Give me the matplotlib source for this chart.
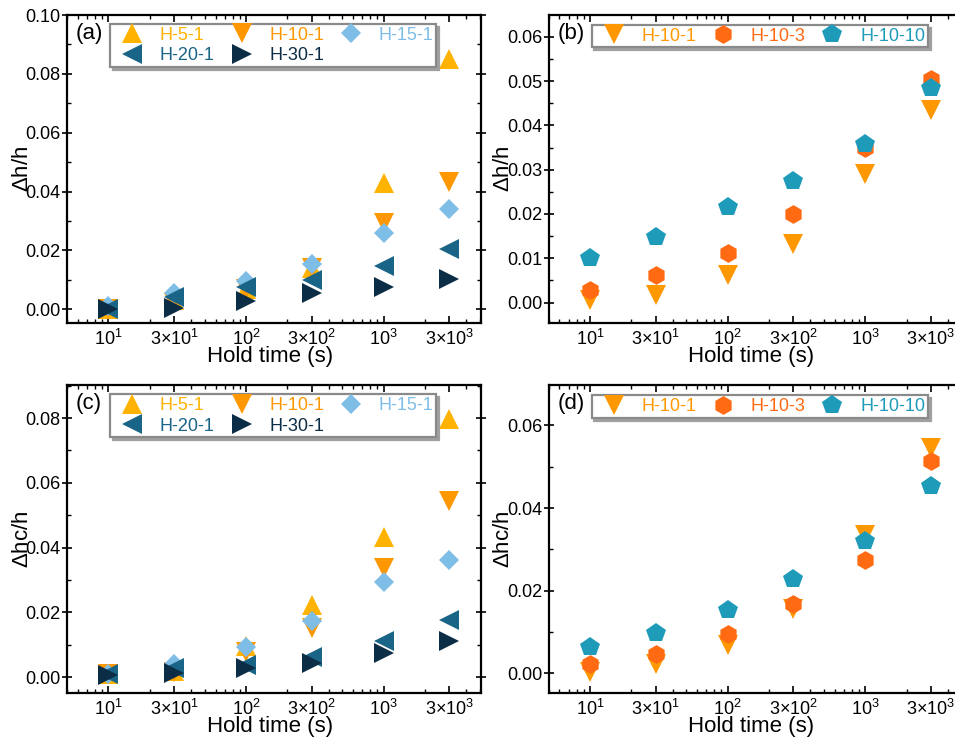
import matplotlib
matplotlib.use("Agg")
import matplotlib.pyplot as plt
from matplotlib.ticker import FixedLocator, FixedFormatter, LogLocator, MultipleLocator

plt.rcParams['font.family'] = ['Liberation Sans', 'DejaVu Sans']
plt.rcParams['mathtext.fontset'] = 'custom'
plt.rcParams['mathtext.rm'] = 'Liberation Sans'
plt.rcParams['mathtext.it'] = 'Liberation Sans:italic'
plt.rcParams['mathtext.default'] = 'regular'

# ---------------- data ----------------
hold_time = [10, 30, 100, 300, 1000, 3000]
xtick_labels = [r'$10^{1}$', r'$3{\times}10^{1}$', r'$10^{2}$',
                r'$3{\times}10^{2}$', r'$10^{3}$', r'$3{\times}10^{3}$']

# panel (a): delta h / h, different load
a_H5_1 = [0.000, 0.003, 0.007, 0.014, 0.0428, 0.0849]
a_H10_1 = [0.000, 0.002, 0.007, 0.014, 0.0294, 0.0434]
a_H15_1 = [0.001, 0.0054, 0.0096, 0.0153, 0.0258, 0.0341]
a_H20_1 = [0.000, 0.0043, 0.0077, 0.0100, 0.0148, 0.0204]
a_H30_1 = [0.000, 0.0005, 0.0028, 0.0054, 0.0077, 0.0103]

# panel (b): delta h / h, different loading rate
b_H10_1 = [0.0005, 0.0017, 0.0062, 0.0132, 0.0290, 0.0435]
b_H10_3 = [0.0029, 0.0062, 0.0111, 0.0200, 0.0350, 0.0505]
b_H10_10 = [0.0101, 0.0149, 0.0215, 0.0275, 0.0358, 0.0484]

# panel (c): delta hc / h, different load
c_H5_1 = [0.001, 0.002, 0.0095, 0.0223, 0.0433, 0.0798]
c_H10_1 = [0.001, 0.0015, 0.0079, 0.0151, 0.0336, 0.0543]
c_H15_1 = [0.001, 0.0041, 0.0094, 0.0174, 0.0295, 0.0361]
c_H20_1 = [0.001, 0.0028, 0.0038, 0.0063, 0.0110, 0.0177]
c_H30_1 = [0.0008, 0.0012, 0.0028, 0.0045, 0.0074, 0.0113]

# panel (d): delta hc / h, different loading rate
d_H10_1 = [0.0004, 0.0024, 0.0070, 0.0155, 0.0336, 0.0546]
d_H10_3 = [0.0022, 0.0046, 0.0095, 0.0169, 0.0274, 0.0514]
d_H10_10 = [0.0064, 0.0097, 0.0153, 0.0228, 0.0320, 0.0453]

load_labels = ['H-5-1', 'H-10-1', 'H-15-1', 'H-20-1', 'H-30-1']
rate_labels = ['H-10-1', 'H-10-3', 'H-10-10']

# ---------------- styles ----------------
C_5 = '#FFB300'
C_10 = '#FF9800'
C_15 = '#7EBDE6'
C_20 = '#1A6587'
C_30 = '#0C2D46'
C_103 = '#FF6A12'
C_1010 = '#1E9BB8'

load_styles = [('^', C_5, 14), ('v', C_10, 14), ('D', C_15, 10.5),
               ('<', C_20, 14), ('>', C_30, 14)]
rate_styles = [('v', C_10, 14), ('h', C_103, 13.5), ('p', C_1010, 14.5)]

fig = plt.figure(figsize=(9.55, 7.42), dpi=100)
W = 414 / 955
H = 308 / 742
axA = fig.add_axes([67 / 955, 1 - 323 / 742, W, H])
axB = fig.add_axes([548.5 / 955, 1 - 323 / 742, W, H])
axC = fig.add_axes([67 / 955, 1 - 693.3 / 742, W, H])
axD = fig.add_axes([548.5 / 955, 1 - 693.3 / 742, W, H])


def style_axes(ax, ylim, major, minor, ylabel, tag):
    ax.set_xscale('log')
    ax.set_xlim(5.0, 5100)
    ax.set_ylim(*ylim)
    ax.xaxis.set_major_locator(FixedLocator(hold_time))
    ax.xaxis.set_major_formatter(FixedFormatter(xtick_labels))
    ax.xaxis.set_minor_locator(LogLocator(base=10, subs=[2, 3, 4, 5, 6, 7, 8, 9], numticks=20))
    ax.yaxis.set_major_locator(MultipleLocator(major))
    ax.yaxis.set_minor_locator(MultipleLocator(minor))
    ax.yaxis.set_major_formatter(matplotlib.ticker.FormatStrFormatter('%.2f'))
    ax.tick_params(axis='x', which='major', direction='in', length=5, width=1.2,
                   top=True, labelsize=13, pad=4)
    ax.tick_params(axis='x', which='minor', direction='in', length=3, width=1.0, top=True)
    ax.tick_params(axis='y', which='major', direction='inout', length=7, width=1.2,
                   right=True, labelsize=13, pad=1)
    ax.tick_params(axis='y', which='minor', direction='in', length=3, width=1.0, right=True)
    for s in ax.spines.values():
        s.set_linewidth(1.6)
    ax.set_xlabel('Hold time (s)', fontsize=16)
    ax.xaxis.set_label_coords(0.49, -0.075)
    ax.set_ylabel(ylabel, fontsize=16)
    ax.yaxis.set_label_coords(-0.083, 0.5)
    ax.text(0.022, 0.94, tag, transform=ax.transAxes, fontsize=16,
            ha='left', va='center')


def add_legend(ax, handles, labels, colors, ncol, anchor, order):
    hs = [handles[i] for i in order]
    ls = [labels[i] for i in order]
    cs = [colors[i] for i in order]
    leg = ax.legend(hs, ls, ncol=ncol, loc='upper left',
                    bbox_to_anchor=anchor, borderaxespad=0, fontsize=13,
                    handlelength=2.15, handletextpad=0.45, columnspacing=0.42,
                    borderpad=0.15, labelspacing=0.2, fancybox=False,
                    frameon=True, framealpha=1, edgecolor='#8A8A8A',
                    shadow={'color': '#A0A0A0', 'alpha': 1, 'ox': 2, 'oy': -2})
    leg.get_frame().set_linewidth(1.6)
    for t, c in zip(leg.get_texts(), cs):
        t.set_color(c)
    return leg


def plot_series(ax, series, styles, labels):
    handles = []
    for ys, (m, c, ms), lab in zip(series, styles, labels):
        h, = ax.plot(hold_time, ys, linestyle='none', marker=m, color=c,
                     markersize=ms, markeredgewidth=0, label=lab)
        handles.append(h)
    return handles


# legend fill order so that rows read H-5-1 H-10-1 H-15-1 / H-20-1 H-30-1
load_order = [0, 3, 1, 4, 2]
rate_order = [0, 1, 2]

# (a)
hA = plot_series(axA, [a_H5_1, a_H10_1, a_H15_1, a_H20_1, a_H30_1], load_styles, load_labels)
style_axes(axA, (-0.0047, 0.100), 0.02, 0.01, r'$\Delta$h/h', '(a)')
add_legend(axA, hA, load_labels, [s[1] for s in load_styles], 3, (0.104, 0.971), load_order)

# (b)
hB = plot_series(axB, [b_H10_1, b_H10_3, b_H10_10], rate_styles, rate_labels)
style_axes(axB, (-0.0046, 0.0649), 0.01, 0.005, r'$\Delta$h/h', '(b)')
add_legend(axB, hB, rate_labels, [s[1] for s in rate_styles], 3, (0.104, 0.9675), rate_order)

# (c)
hC = plot_series(axC, [c_H5_1, c_H10_1, c_H15_1, c_H20_1, c_H30_1], load_styles, load_labels)
style_axes(axC, (-0.0050, 0.0901), 0.02, 0.01, r'$\Delta$hc/h', '(c)')
add_legend(axC, hC, load_labels, [s[1] for s in load_styles], 3, (0.104, 0.971), load_order)

# (d)
hD = plot_series(axD, [d_H10_1, d_H10_3, d_H10_10], rate_styles, rate_labels)
style_axes(axD, (-0.0048, 0.0697), 0.02, 0.01, r'$\Delta$hc/h', '(d)')
add_legend(axD, hD, rate_labels, [s[1] for s in rate_styles], 3, (0.104, 0.9675), rate_order)

fig.savefig('out.png', dpi=100)
